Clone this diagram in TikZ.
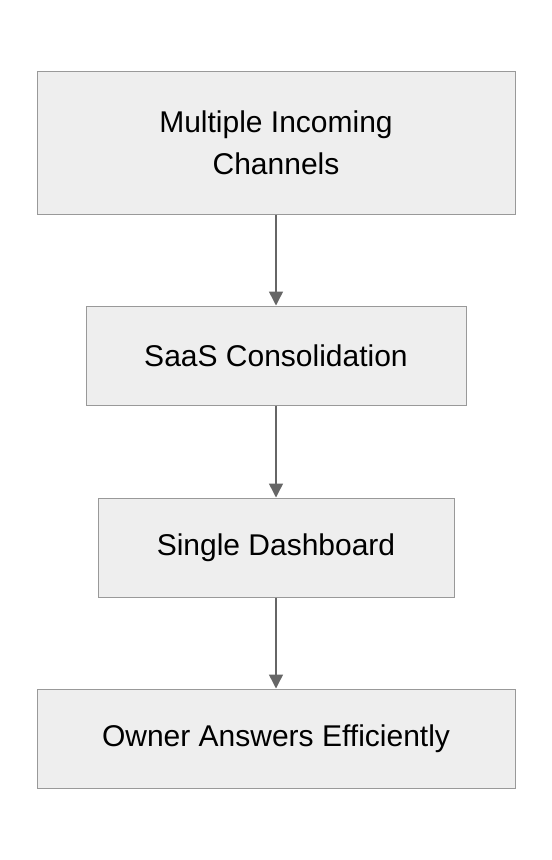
\documentclass[tikz,border=0pt]{standalone}
\usepackage{fontspec}
\setmainfont{Liberation Sans}
\definecolor{BOXfill}{HTML}{EEEEEE}
\definecolor{BOXline}{HTML}{999999}
\definecolor{ARRcolor}{HTML}{666666}
\usetikzlibrary{arrows.meta}

\begin{document}
\begin{tikzpicture}[x=0.75pt, y=-0.75pt]

    \tikzset{%
        stepbox/.style={draw=BOXline, fill=BOXfill, line width=0.75pt,
                align=center, font=\fontsize{22.5}{31.5}\selectfont,
                minimum height=74.25pt, inner sep=0pt},
        flow/.style={draw=ARRcolor, line width=1.1pt,
                -{Triangle[length=10.5pt, width=10.5pt]}}
    }

    \useasboundingbox (0, 0) rectangle (552, 860);

    \node [stepbox, minimum width=358.5pt, minimum height=107.25pt] (channels) at (276, 142.5) {Multiple Incoming\\Channels};
    \node [stepbox, minimum width=285pt] (saas) at (276, 355.5) {SaaS Consolidation};
    \node [stepbox, minimum width=267pt] (dashboard) at (276, 547.5) {Single Dashboard};
    \node [stepbox, minimum width=358.5pt] (owner) at (276, 738.5) {Owner Answers Efficiently};

    \draw [flow] (channels) -- (saas);
    \draw [flow] (saas) -- (dashboard);
    \draw [flow] (dashboard) -- (owner);

\end{tikzpicture}
\end{document}
